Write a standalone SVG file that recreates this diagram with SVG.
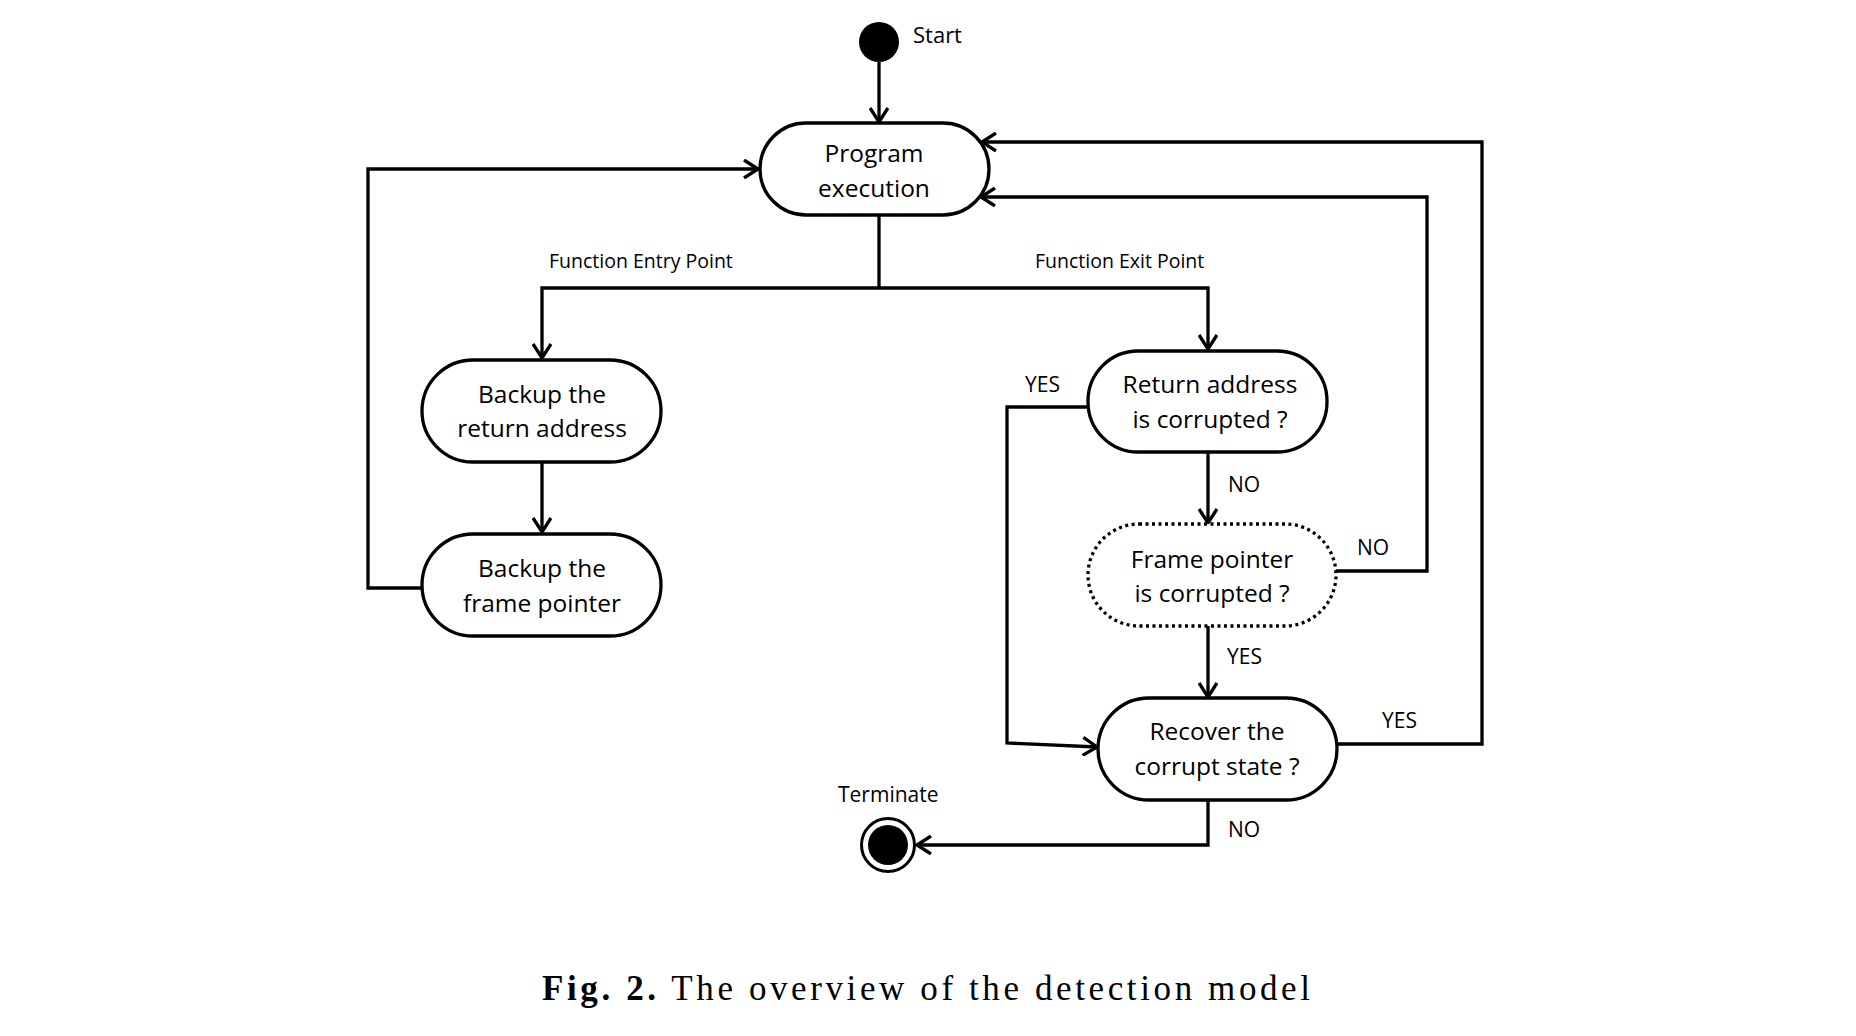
<svg xmlns="http://www.w3.org/2000/svg" width="1856" height="1036" viewBox="0 0 1856 1036">
<style>
.box{fill:#fff;stroke:#000;stroke-width:3.3}
.dot{fill:#fff;stroke:#000;stroke-width:3.3;stroke-dasharray:3 3.5}
.t{font-family:"Open Sans","Liberation Sans",sans-serif;font-size:24.5px;fill:#000;text-anchor:middle}
.l{font-family:"Open Sans","Liberation Sans",sans-serif;font-size:21px;fill:#000}
.s{font-family:"Open Sans","Liberation Sans",sans-serif;font-size:19.5px;fill:#000}
.c{fill:none;stroke:#000;stroke-width:3.3;marker-end:url(#ah)}
.n{fill:none;stroke:#000;stroke-width:3.3}
.cap{font-family:"Liberation Serif","DejaVu Serif",serif;font-size:35px;fill:#000}
</style>
<defs>
<marker id="ah" markerUnits="userSpaceOnUse" markerWidth="20" markerHeight="20" viewBox="0 0 20 20" refX="18" refY="10" orient="auto">
<path d="M4,1 L18,10 L4,19" fill="none" stroke="#000" stroke-width="3.3"/>
</marker>
</defs>
<rect width="1856" height="1036" fill="#fff"/>
<g id="connectors">
<path class="c" d="M879,62 V122"/>
<path class="n" d="M879,215 V288"/>
<path class="c" d="M879,288 H542 V358"/>
<path class="c" d="M879,288 H1208 V349"/>
<path class="c" d="M542,462 V532"/>
<path class="c" d="M422,588 H368 V169 H758"/>
<path class="c" d="M1088,407 H1007 V743 L1097,747"/>
<path class="c" d="M1208,452 V523"/>
<path class="c" d="M1336,571 H1427 V197 H981"/>
<path class="c" d="M1208,626 V697"/>
<path class="c" d="M1337,744 H1482 V142 H982"/>
<path class="c" d="M1208,800 V845 H917"/>
</g>
<g id="start">
<circle cx="879" cy="42" r="20" fill="#000"/>
<text class="l" x="913" y="43" style="font-size:22px">Start</text>
</g>
<g id="program">
<rect class="box" x="760" y="123" width="229" height="92" rx="46"/>
<text class="t" x="874" y="162">Program</text>
<text class="t" x="874" y="197">execution</text>
</g>
<g id="labels-branch">
<text class="s" x="549" y="268">Function Entry Point</text>
<text class="s" x="1035" y="268">Function Exit Point</text>
</g>
<g id="backup-ra">
<rect class="box" x="422" y="360" width="239" height="102" rx="51"/>
<text class="t" x="542" y="403">Backup the</text>
<text class="t" x="542" y="437">return address</text>
</g>
<g id="backup-fp">
<rect class="box" x="422" y="534" width="239" height="102" rx="51"/>
<text class="t" x="542" y="577">Backup the</text>
<text class="t" x="542" y="612">frame pointer</text>
</g>
<g id="ra-check">
<rect class="box" x="1088" y="351" width="239" height="101" rx="50"/>
<text class="t" x="1210" y="393">Return address</text>
<text class="t" x="1210" y="428">is corrupted ?</text>
<text class="l" x="1025" y="392">YES</text>
<text class="l" x="1228" y="492">NO</text>
</g>
<g id="fp-check">
<rect class="dot" x="1088" y="524" width="248" height="102" rx="51"/>
<text class="t" x="1212" y="568">Frame pointer</text>
<text class="t" x="1212" y="602">is corrupted ?</text>
<text class="l" x="1357" y="555">NO</text>
<text class="l" x="1227" y="664">YES</text>
</g>
<g id="recover">
<rect class="box" x="1098" y="698" width="239" height="102" rx="51"/>
<text class="t" x="1217" y="740">Recover the</text>
<text class="t" x="1217" y="775">corrupt state ?</text>
<text class="l" x="1382" y="728">YES</text>
<text class="l" x="1228" y="837">NO</text>
</g>
<g id="terminate">
<circle cx="888" cy="845" r="26.5" fill="#fff" stroke="#000" stroke-width="3"/>
<circle cx="888" cy="845" r="20" fill="#000"/>
<text class="l" x="838" y="802">Terminate</text>
</g>
<g id="caption">
<text class="cap" x="542" y="1000" textLength="768" lengthAdjust="spacing"><tspan font-weight="bold">Fig. 2.</tspan> The overview of the detection model</text>
</g>
</svg>
